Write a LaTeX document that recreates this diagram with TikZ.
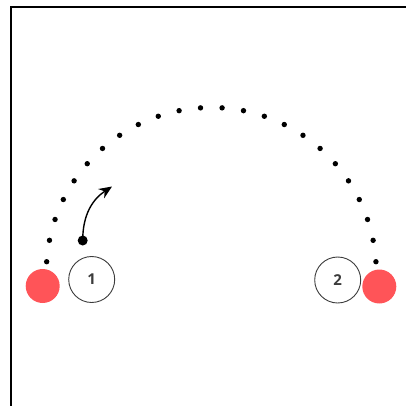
\documentclass[tikz,border=0pt]{standalone}
\usepackage{fontspec}
\setmainfont{Open Sans}
\usetikzlibrary{arrows.meta}
\definecolor{ballred}{RGB}{255,84,88}
\definecolor{ringgray}{RGB}{60,60,60}
\tikzset{
  ball/.style={circle, fill=ballred, minimum size=34pt, inner sep=0pt},
  player/.style={circle, draw=ringgray, line width=0.9pt, fill=white, minimum size=46pt, inner sep=0pt, font=\bfseries\fontsize{15pt}{15pt}\selectfont, text=ringgray},
  trail/.style={fill=black},
  frame/.style={line width=2pt, draw=black}
}
\begin{document}
\begin{tikzpicture}[x=1pt,y=-1pt]
\useasboundingbox (0,0) rectangle (405,406);
\draw[frame] (10.5,407) -- (10.5,7) -- (406,7);
% dotted arc
\foreach \k in {0,...,23} {
  \fill[trail] ({211.3+165*cos(3.75+7.5*\k)},{272.5-165*sin(3.75+7.5*\k)}) circle (2.7);
}
\node[ball] (b1) at (42.7,286) {};
\node[ball] (b2) at (379.3,286.5) {};
\node[player] (p1) at (91.7,279.5) {1};
\node[player] (p2) at (337.7,280) {2};
\fill (82.7,240.5) circle (5);
\coordinate (s) at (82.7,240.5);
\coordinate (t) at (112,186.5);
\draw[line width=1.4pt, -{Stealth[length=13pt,width=11pt]}] (s) .. controls (82.7,214) and (93,199) .. (t);
\end{tikzpicture}
\end{document}
